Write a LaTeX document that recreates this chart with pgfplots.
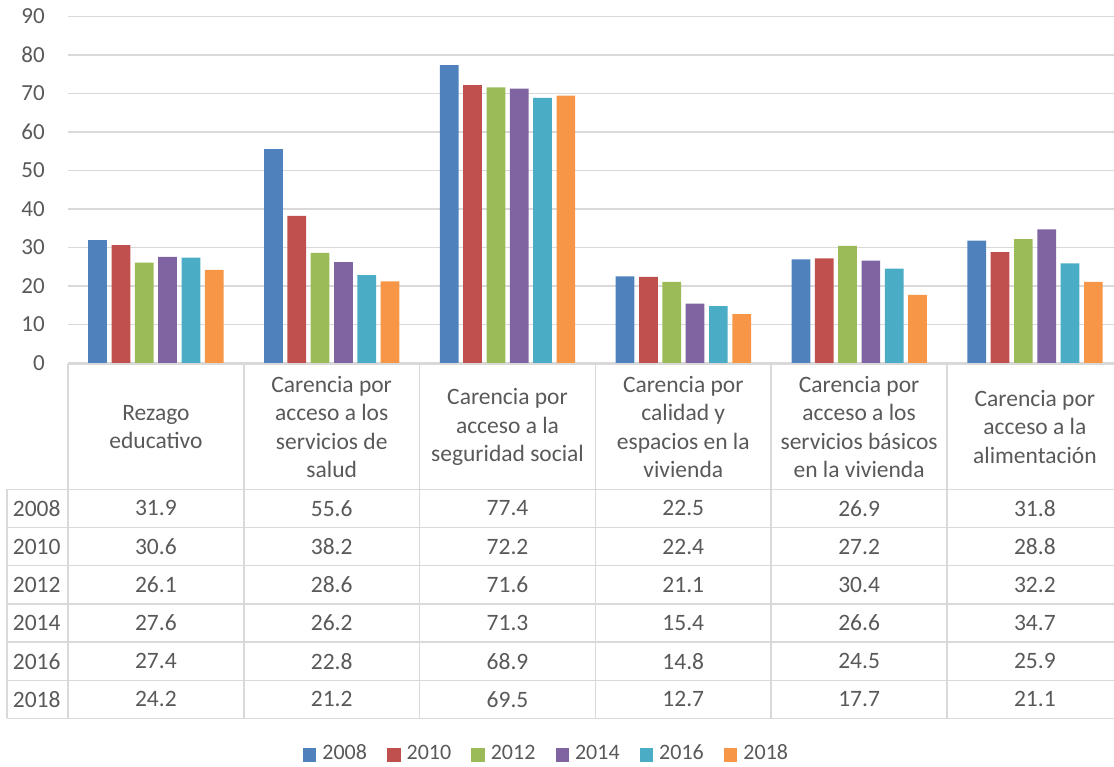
\documentclass[border=0pt]{standalone}
\usepackage{fontspec}
\setmainfont{Carlito}
\usepackage{pgfplots}
\usepackage{pgfplotstable}
\pgfplotsset{compat=1.18}
\definecolor{c1}{HTML}{4F81BD}
\definecolor{c2}{HTML}{C0504D}
\definecolor{c3}{HTML}{9BBB59}
\definecolor{c4}{HTML}{8064A2}
\definecolor{c5}{HTML}{4BACC6}
\definecolor{c6}{HTML}{F79646}
\definecolor{txt}{HTML}{595959}
\definecolor{gridc}{HTML}{D9D9D9}
\pgfplotstableread{
cat y2008 y2010 y2012 y2014 y2016 y2018
0 31.9 30.6 26.1 27.6 27.4 24.2
1 55.6 38.2 28.6 26.2 22.8 21.2
2 77.4 72.2 71.6 71.3 68.9 69.5
3 22.5 22.4 21.1 15.4 14.8 12.7
4 26.9 27.2 30.4 26.6 24.5 17.7
5 31.8 28.8 32.2 34.7 25.9 21.1
}\data
\pgfplotsset{lg/.style={legend image code/.code={\fill[#1] (0pt,-8.7pt) rectangle (13.4pt,4.7pt);}}}
\begin{document}
\begin{tikzpicture}
\begin{axis}[
  at={(68pt,403pt)}, anchor=south west, scale only axis,
  width=1055pt, height=346.4pt,
  xmin=-0.5, xmax=5.5, ymin=0, ymax=90,
  ytick={0,10,...,90}, xtick=\empty,
  ymajorgrids, grid style={gridc, line width=1.3pt},
  axis line style={draw=none},
  major tick length=0pt, tick align=inside,
  /pgf/number format/assume math mode=true,
  yticklabel style={anchor=east, inner sep=0pt, xshift=-23pt, font=\fontsize{23}{28}\selectfont, text=txt},
  ybar=4.63pt, bar width=18.7pt,
  legend style={at={(0.4555,-1.1259)}, anchor=center, draw=none, fill=none,
    legend columns=6, font=\fontsize{22}{26}\selectfont, text=txt,
    /tikz/every even column/.append style={column sep=14.2pt},
    nodes={inner xsep=6pt, inner ysep=2pt}},
]
\addplot[fill=c1, draw=none, lg=c1] table[x=cat,y=y2008]{\data};
\addplot[fill=c2, draw=none, lg=c2] table[x=cat,y=y2010]{\data};
\addplot[fill=c3, draw=none, lg=c3] table[x=cat,y=y2012]{\data};
\addplot[fill=c4, draw=none, lg=c4] table[x=cat,y=y2014]{\data};
\addplot[fill=c5, draw=none, lg=c5] table[x=cat,y=y2016]{\data};
\addplot[fill=c6, draw=none, lg=c6] table[x=cat,y=y2018]{\data};
\legend{2008,2010,2012,2014,2016,2018}
\end{axis}
\begin{scope}[x=1pt, y=-1pt, shift={(0pt,766pt)}]
  \tikzset{tl/.style={draw=gridc, line width=1.5pt}}
  \draw[tl] (68,364) -- (1123,364);
  \foreach \yy in {489.3,527.5,565.7,603.9,642.1,680.3,718.5}
    \draw[tl] (7,\yy) -- (1123,\yy);
  \draw[tl] (7,489.3) -- (7,718.5);
  \foreach \xx in {68,243.8,419.6,595.4,771.2,947.0}
    \draw[tl] (\xx,364) -- (\xx,718.5);
  \tikzset{ht/.style={align=center, text=txt, font=\fontsize{23.5}{28.5}\selectfont, inner sep=0pt}}
  \node[ht] at (155.9,427) {Rezago\\educativo};
  \node[ht] at (331.7,427) {Carencia por\\acceso a los\\servicios de\\salud};
  \node[ht] at (507.5,427) {Carencia por\\acceso a la\\seguridad social};
  \node[ht] at (683.3,427) {Carencia por\\calidad y\\espacios en la\\vivienda};
  \node[ht] at (859.1,427) {Carencia por\\acceso a los\\servicios básicos\\en la vivienda};
  \node[ht] at (1034.9,427) {Carencia por\\acceso a la\\alimentación};
  \foreach \yr [count=\r from 0] in {2008,2010,2012,2014,2016,2018} {
    \pgfmathsetmacro{\ym}{508.4+38.2*\r}
    \node[ht, anchor=west] at (12.7,\ym) {\yr};
    \foreach \c in {0,...,5} {
      \pgfmathsetmacro{\xm}{155.9+175.8*\c}
      \pgfplotstablegetelem{\c}{y\yr}\of\data
      \node[ht] at (\xm,\ym) {\pgfplotsretval};
    }
  }
\end{scope}
\pgfresetboundingbox
\useasboundingbox (0pt,0pt) rectangle (1114pt,766pt);
\end{tikzpicture}
\end{document}
